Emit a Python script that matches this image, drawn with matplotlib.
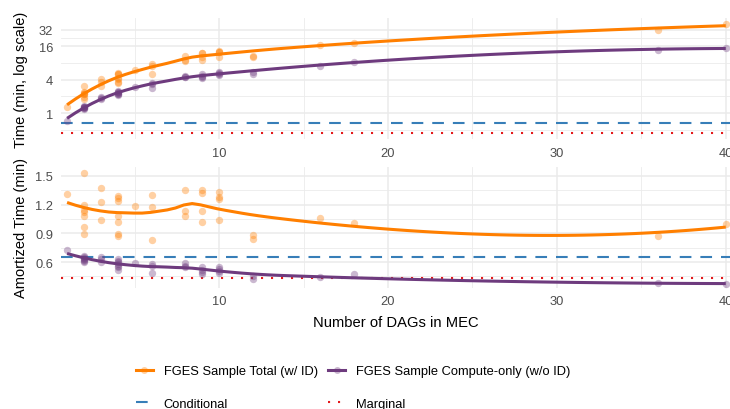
import numpy as np
import matplotlib
matplotlib.use("Agg")
import matplotlib.pyplot as plt
from matplotlib.lines import Line2D
from matplotlib.colors import to_rgba
from matplotlib.ticker import FixedLocator, NullFormatter

plt.rcParams['font.family'] = ['Liberation Sans', 'DejaVu Sans']

# Number of DAGs in the MEC for each run
dags = [1,
        2, 2, 2, 2, 2, 2, 2,
        3, 3, 3,
        4, 4, 4, 4, 4, 4, 4,
        5,
        6, 6, 6,
        8, 8, 8,
        9, 9, 9, 9,
        10, 10, 10, 10,
        12, 12,
        16, 18, 36, 40]

# Amortized time per DAG (minutes)
amort_total = [1.31,
               1.53, 1.20, 1.145, 1.12, 1.085, 0.97, 0.895,
               1.37, 1.225, 1.04,
               1.29, 1.27, 1.24, 1.085, 1.02, 0.89, 0.875,
               1.19,
               1.30, 1.18, 0.83,
               1.355, 1.135, 1.085,
               1.355, 1.32, 1.135, 1.015,
               1.33, 1.28, 1.26, 1.04,
               0.88, 0.84,
               1.057, 1.008, 0.867, 0.994]

amort_compute = [0.727,
                 0.66, 0.65, 0.64, 0.63, 0.62, 0.61, 0.60,
                 0.65, 0.63, 0.60,
                 0.63, 0.61, 0.60, 0.575, 0.56, 0.55, 0.52,
                 0.585,
                 0.58, 0.56, 0.48,
                 0.585, 0.56, 0.55,
                 0.55, 0.52, 0.495, 0.47,
                 0.55, 0.53, 0.505, 0.49,
                 0.45, 0.425,
                 0.44, 0.47, 0.382, 0.371]

# Reference timings (minutes)
conditional_time = 0.655
marginal_time = 0.43

series_labels = ["FGES Sample Total (w/ ID)", "FGES Sample Compute-only (w/o ID)"]
ref_labels = ["Conditional", "Marginal"]
x_ticks = [10, 20, 30, 40]
top_y_ticks = [1, 4, 16, 32]
bottom_y_ticks = [0.6, 0.9, 1.2, 1.5]

ORANGE = "#FF7F00"
PURPLE = "#6E3B7E"
BLUE = "#377EB8"
RED = "#E41A1C"
GRID = "#EBEBEB"
TICK = "#4D4D4D"


def local_fit(x, y, x0, q):
    """Tricube-weighted local quadratic fit at x0: value and slope."""
    d = np.abs(x - x0)
    h = np.sort(d)[q - 1]
    w = np.clip(1 - (d / h) ** 3, 0, None) ** 3
    X = np.vstack([np.ones_like(x), x - x0, (x - x0) ** 2]).T
    sw = np.sqrt(w)
    beta = np.linalg.lstsq(X * sw[:, None], y * sw, rcond=None)[0]
    return beta[0], beta[1]


def kd_vertices(xs, fc):
    """Cell boundaries of a 1-d k-d tree over sorted xs (loess 'interpolate')."""
    lo0, hi0 = xs[0], xs[-1]
    mu = 0.005 * (hi0 - lo0)
    verts = {lo0 - mu, hi0 + mu}

    def split(l, u, lo, hi):
        if u - l + 1 <= fc:
            return
        m = (l + u + 2) // 2 - 1
        off = 0
        while not (m + off >= u or m + off < l):
            if xs[m + off] == xs[m + off + 1]:
                off = -off
                if off >= 0:
                    off += 1
            else:
                m = m + off
                break
        if lo == xs[m] or hi == xs[m]:
            return
        t = 0.5 * (xs[m] + xs[m + 1])
        verts.add(t)
        split(l, m, lo, t)
        split(m + 1, u, t, hi)

    split(0, len(xs) - 1, lo0 - mu, hi0 + mu)
    return np.array(sorted(verts))


def loess(x, y, grid, span=0.75, cell=0.2):
    x = np.asarray(x, float)
    y = np.asarray(y, float)
    n = len(x)
    q = int(np.floor(n * span))
    fc = int(np.floor(n * span * cell))
    v = kd_vertices(np.sort(x), fc)
    vals = np.array([local_fit(x, y, t, q) for t in v])
    out = []
    for g in grid:
        i = min(max(np.searchsorted(v, g) - 1, 0), len(v) - 2)
        a, b = v[i], v[i + 1]
        hlen = b - a
        s = (g - a) / hlen
        f0, d0 = vals[i]
        f1, d1 = vals[i + 1]
        h00 = 2 * s**3 - 3 * s**2 + 1
        h10 = s**3 - 2 * s**2 + s
        h01 = -2 * s**3 + 3 * s**2
        h11 = s**3 - s**2
        out.append(h00 * f0 + h10 * hlen * d0 + h01 * f1 + h11 * hlen * d1)
    return np.array(out)


x = np.array(dags, float)
a_tot = np.array(amort_total)
a_cmp = np.array(amort_compute)
t_tot = a_tot * x
t_cmp = a_cmp * x
xs = np.linspace(x.min(), x.max(), 80)

W, H = 730, 410
fig = plt.figure(figsize=(W / 100, H / 100), dpi=100)


def px_axes(left, top, right, bottom):
    return fig.add_axes([left / W, 1 - bottom / H, (right - left) / W, (bottom - top) / H])


ax1 = px_axes(61, 19, 730, 140)
ax2 = px_axes(61, 168, 730, 289)

xlim = (0.64, 40.25)
pt_kw = dict(s=28, alpha=0.36, linewidths=0, zorder=3)
ln_kw = dict(lw=2.2, zorder=4, solid_capstyle="butt")
dash_kw = dict(color=BLUE, lw=1.5, dashes=(5.6, 4.3), zorder=2, dash_capstyle="butt")
dot_kw = dict(color=RED, lw=1.5, dashes=(1.0, 3.8), zorder=2, dash_capstyle="butt")

# Top: total times on a log scale
ax1.set_yscale("log", base=2)
ax1.scatter(x, t_tot, color=ORANGE, **pt_kw)
ax1.scatter(x, t_cmp, color=PURPLE, **pt_kw)
ax1.plot(xs, 2 ** loess(x, np.log2(t_tot), xs), color=ORANGE, **ln_kw)
ax1.plot(xs, 2 ** loess(x, np.log2(t_cmp), xs), color=PURPLE, **ln_kw)
ax1.axhline(conditional_time, **dash_kw)
ax1.axhline(marginal_time, **dot_kw)
ax1.set_ylim(0.34, 51.6)
ax1.yaxis.set_major_locator(FixedLocator(top_y_ticks))
ax1.set_yticklabels([str(t) for t in top_y_ticks])
ax1.yaxis.set_minor_locator(FixedLocator([0.5, 2, 8, np.sqrt(16 * 32)]))
ax1.yaxis.set_minor_formatter(NullFormatter())

# Bottom: amortized time per DAG
ax2.scatter(x, a_tot, color=ORANGE, **pt_kw)
ax2.scatter(x, a_cmp, color=PURPLE, **pt_kw)
ax2.plot(xs, loess(x, a_tot, xs), color=ORANGE, **ln_kw)
ax2.plot(xs, loess(x, a_cmp, xs), color=PURPLE, **ln_kw)
ax2.axhline(conditional_time, **dash_kw)
ax2.axhline(marginal_time, **dot_kw)
ax2.set_ylim(0.328, 1.594)
ax2.yaxis.set_major_locator(FixedLocator(bottom_y_ticks))
ax2.set_yticklabels([f"{t:.1f}" for t in bottom_y_ticks])
ax2.yaxis.set_minor_locator(FixedLocator([0.45, 0.75, 1.05, 1.35]))
ax2.yaxis.set_minor_formatter(NullFormatter())

for ax in (ax1, ax2):
    ax.set_xlim(*xlim)
    ax.xaxis.set_major_locator(FixedLocator(x_ticks))
    ax.set_xticklabels([str(t) for t in x_ticks])
    ax.xaxis.set_minor_locator(FixedLocator([5, 15, 25, 35]))
    ax.xaxis.set_minor_formatter(NullFormatter())
    ax.grid(True, which="major", color=GRID, lw=1.1, zorder=0)
    ax.grid(True, which="minor", color=GRID, lw=0.6, zorder=0)
    ax.set_axisbelow(True)
    for s in ax.spines.values():
        s.set_visible(False)
    ax.tick_params(which="both", length=0, labelsize=9.3, colors=TICK, pad=5.5)
    ax.set_facecolor("white")
ax1.tick_params(axis="x", pad=5.5)
ax2.tick_params(axis="x", pad=5.0)

fig.text(21 / W, 1 - 79.5 / H, "Time (min, log scale)", rotation=90,
         ha="center", va="center", fontsize=10.5, color="black")
fig.text(21 / W, 1 - 228.5 / H, "Amortized Time (min)", rotation=90,
         ha="center", va="center", fontsize=10.5, color="black")
ax2.set_xlabel("Number of DAGs in MEC", fontsize=10.6, color="black", labelpad=6)


def key(color, **kw):
    return Line2D([], [], color=color, **kw)


handles = [
    key(ORANGE, lw=2.2, marker="o", ms=5, mfc=to_rgba(ORANGE, 0.36), mec=to_rgba(ORANGE, 0.0)),
    key(BLUE, lw=1.5, dashes=(5.6, 4.3), dash_capstyle="butt"),
    key(PURPLE, lw=2.2, marker="o", ms=5, mfc=to_rgba(PURPLE, 0.36), mec=to_rgba(PURPLE, 0.0)),
    key(RED, lw=1.5, dashes=(1.0, 3.8), dash_capstyle="butt"),
]
labels = [series_labels[0], ref_labels[0], series_labels[1], ref_labels[1]]
fig.legend(handles, labels, ncol=2, loc="upper left",
           bbox_to_anchor=(136 / W, 1 - 366 / H), frameon=False,
           fontsize=9.3, handlelength=1.3, handletextpad=0.85,
           columnspacing=0.8, labelspacing=1.6, borderpad=0, borderaxespad=0)

fig.savefig("out.png", dpi=100, facecolor="white")
